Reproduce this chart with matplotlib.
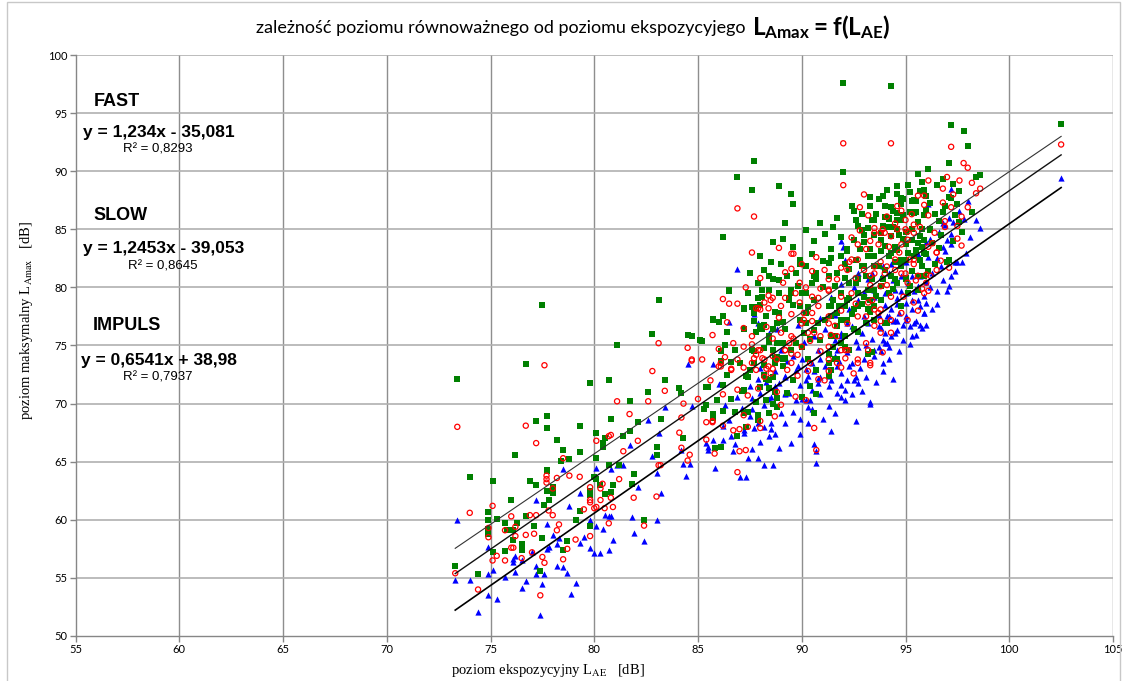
import numpy as np
import matplotlib
matplotlib.use("Agg")
import matplotlib.pyplot as plt
from matplotlib.patches import Rectangle

# ---------------------------------------------------------------------------
# Data: x = L_AE [dB], y = L_Amax [dB]
# ---------------------------------------------------------------------------

# green squares (highest series)
impuls_pts = np.array([
    (73.4, 72.1), (76.7, 73.4), (79.8, 71.8), (80.7, 72.0), (83.4, 72.0), (82.6, 71.0), (81.7, 70.2),
    (84.1, 71.3), (84.2, 70.9), (83.2, 68.7), (85.4, 71.4), (85.3, 69.5), (86.2, 71.6), (86.2, 69.4),
    (85.7, 68.8), (85.8, 66.2), (84.3, 67.0), (83.0, 66.3), (83.0, 65.6), (82.4, 60.0), (81.9, 63.9),
    (81.8, 63.1), (81.2, 64.7), (81.4, 67.2), (80.8, 68.7), (82.1, 68.4), (81.7, 67.6), (80.1, 67.5),
    (80.4, 66.6), (80.4, 66.3), (80.5, 67.0), (80.1, 65.3), (80.7, 64.7), (80.3, 63.0), (80.9, 63.0),
    (80.8, 62.4), (80.5, 62.2), (79.8, 62.5), (79.8, 62.1), (80.0, 63.7), (80.1, 63.5), (79.3, 60.8),
    (79.8, 59.5), (79.1, 60.0), (79.3, 65.8), (79.3, 68.1), (78.5, 66.0), (78.8, 65.2), (78.4, 65.1),
    (78.2, 66.9), (77.7, 68.9), (77.7, 67.9), (77.2, 68.5), (76.2, 65.6), (76.9, 63.3), (77.2, 63.0),
    (77.7, 64.3), (77.7, 64.2), (77.7, 62.5), (78.0, 62.3), (78.0, 62.8), (77.8, 61.7), (77.6, 61.3),
    (76.7, 60.3), (77.1, 59.5), (77.5, 58.4), (76.3, 59.7), (76.0, 61.7), (75.1, 63.3), (75.3, 60.1),
    (74.9, 60.7), (74.9, 60.0), (74.9, 59.2), (74.9, 58.8), (75.1, 57.2), (75.7, 59.7), (75.8, 59.1),
    (76.1, 59.1), (76.1, 58.3), (75.7, 57.3), (76.5, 57.9), (76.5, 57.4), (78.7, 58.2), (78.5, 57.4),
    (77.4, 55.6), (74.4, 55.3), (73.3, 56.0), (74.0, 63.7), (77.5, 78.5),
    (83.1, 78.9), (81.1, 75.0), (82.8, 76.0), (84.5, 75.9), (84.7, 75.8), (85.2, 75.4), (85.7, 77.3),
    (86.0, 77.0), (86.5, 79.7), (86.3, 75.0), (87.2, 78.1), (86.1, 74.5), (86.6, 73.6), (86.1, 73.7),
    (85.5, 71.4), (87.4, 72.3), (87.1, 71.1), (87.2, 71.1), (88.0, 71.4), (88.3, 72.1), (88.2, 72.5),
    (87.7, 78.3), (87.9, 79.1), (88.4, 79.8), (87.7, 77.1), (88.1, 76.4), (88.4, 75.3), (88.2, 74.8),
    (88.7, 77.9), (88.8, 76.9), (88.9, 73.9), (88.6, 72.3), (88.7, 71.0), (88.3, 70.3), (87.4, 69.3),
    (86.9, 67.2), (87.3, 68.0), (87.9, 69.0), (87.7, 74.5), (87.5, 72.9), (88.8, 69.7), (88.8, 74.0),
    (92.0, 97.6), (94.3, 97.3), (87.7, 90.9), (86.9, 89.5), (87.6, 88.4), (88.9, 88.7), (89.5, 88.0),
    (89.6, 87.2), (89.2, 85.5), (86.2, 84.3), (92.0, 89.9), (97.2, 94.0), (97.8, 93.5), (98.0, 92.2),
    (97.1, 90.7), (98.4, 89.5), (98.6, 89.7), (96.8, 89.3), (96.1, 90.2), (95.6, 89.8), (95.8, 89.1),
    (94.6, 88.7), (94.6, 88.0), (93.3, 87.8), (93.7, 87.6), (92.4, 87.0), (95.2, 88.2), (95.3, 87.4),
    (95.5, 87.4), (95.9, 88.4), (96.0, 87.9), (97.1, 87.8), (96.9, 87.0), (94.8, 87.7), (94.8, 87.2),
    (94.3, 86.9), (102.5, 94.1),
    (92.6, 85.8), (91.9, 84.3), (92.2, 83.3), (92.5, 84.1), (93.0, 84.5), (92.8, 83.3), (92.1, 82.0),
    (91.4, 82.5), (91.3, 82.1), (91.7, 81.2), (92.1, 80.8), (92.6, 80.4), (93.0, 81.8), (93.2, 85.1),
    (93.5, 85.8), (93.3, 83.3), (93.5, 81.8), (90.5, 82.9), (89.9, 82.4), (89.9, 82.0), (89.0, 82.0),
    (88.5, 82.2), (88.2, 81.5), (88.4, 81.0), (90.6, 81.0), (90.7, 80.7), (90.5, 80.4), (89.8, 80.1),
    (88.9, 79.5), (89.5, 79.5), (89.6, 78.5), (89.4, 79.1), (88.1, 79.2), (88.0, 78.5), (87.6, 78.3),
    (88.3, 77.5), (88.2, 76.8), (87.8, 76.2), (88.4, 75.5), (88.8, 75.2), (89.1, 75.2), (89.2, 73.9),
    (88.7, 73.9), (88.2, 73.3), (88.4, 72.0), (88.4, 71.3), (87.2, 71.2), (86.8, 69.3), (87.2, 69.2),
    (88.6, 70.0), (88.8, 70.5), (89.6, 72.0), (90.0, 74.9), (90.2, 76.9), (90.6, 76.3), (90.7, 70.8),
    (90.6, 69.2), (91.3, 74.3), (91.4, 77.5), (91.4, 78.4), (91.7, 77.8), (91.9, 77.2), (92.1, 78.4),
    (92.3, 79.1), (92.5, 78.1), (91.4, 75.8), (91.5, 74.9), (92.1, 74.9), (92.3, 74.6), (91.7, 73.8),
    (91.4, 72.9), (93.2, 74.3), (92.7, 76.2), (93.2, 78.1), (93.3, 78.9), (93.0, 79.2), (93.5, 79.8),
    (97.3, 88.9), (94.9, 87.6), (95.4, 87.5), (96.0, 86.7), (95.9, 86.2), (95.2, 86.5), (95.5, 86.5),
    (94.8, 85.8), (94.2, 86.0), (94.0, 87.0), (93.3, 87.0), (94.2, 85.2), (94.6, 85.0), (95.0, 84.8),
    (95.3, 85.0), (95.8, 85.0), (96.2, 85.0), (96.6, 85.7), (97.2, 87.7), (97.4, 86.2), (97.7, 84.8),
    (97.1, 82.4), (97.0, 82.2), (95.9, 84.1), (95.6, 83.8), (95.3, 84.1), (95.0, 83.7), (94.6, 83.2),
    (94.3, 84.4), (93.8, 84.1), (93.5, 84.5), (93.8, 83.1), (93.5, 82.7), (94.2, 82.7), (94.5, 82.2),
    (95.0, 82.4), (95.4, 82.7), (95.8, 81.8), (94.8, 81.8), (95.3, 81.4), (95.6, 81.0), (95.0, 80.8),
    (94.6, 80.4), (94.3, 81.0), (94.0, 81.5), (93.7, 81.8), (93.4, 80.7), (93.8, 80.1), (94.2, 79.5),
    (93.8, 78.9), (93.5, 78.4), (94.0, 76.9), (93.3, 77.9), (93.4, 74.4),
    (93.4, 85.8), (93.8, 84.7), (94.2, 85.9), (94.4, 85.2), (94.6, 85.8), (95.4, 86.4), (95.7, 84.4),
    (95.8, 83.5), (96.2, 84.9), (96.3, 83.8), (96.1, 81.4), (95.7, 82.4), (95.1, 83.0), (94.8, 82.4),
    (94.5, 83.5), (93.2, 82.7), (92.9, 81.8), (92.6, 82.4), (92.2, 83.1), (91.9, 82.7), (91.3, 81.0),
    (92.3, 80.4), (92.7, 80.7), (93.1, 81.0), (93.9, 80.7), (93.2, 79.8), (92.7, 79.5), (92.2, 78.9),
    (91.9, 79.5), (91.6, 80.1), (91.5, 78.9), (91.3, 78.4), (92.2, 77.2), (91.7, 76.7), (91.6, 75.8),
    (91.9, 75.2), (92.5, 76.4), (90.7, 81.2), (90.2, 79.5), (90.6, 78.9), (90.0, 79.5), (89.5, 79.8),
    (89.4, 78.9), (89.9, 78.4), (90.2, 77.8), (90.8, 76.9), (90.1, 76.1), (89.7, 75.2), (89.5, 74.6),
    (89.1, 73.8), (89.1, 73.2), (88.6, 74.6), (88.7, 73.5), (88.4, 75.8), (88.0, 76.7), (87.7, 77.8),
    (88.9, 77.8), (88.6, 80.7), (88.1, 79.8), (87.4, 79.5), (87.2, 78.2), (86.5, 79.8), (86.2, 77.5),
    (85.7, 77.2), (85.1, 75.5), (87.2, 76.4), (87.6, 74.6), (87.7, 73.5), (87.3, 72.4), (85.7, 69.1),
    (85.4, 69.9), (86.1, 66.3), (87.9, 68.6), (88.4, 69.2), (89.3, 70.9), (90.0, 70.6), (90.4, 71.5),
    (90.3, 73.8), (90.7, 72.9), (91.3, 73.5), (91.3, 72.4), (91.6, 73.8), (92.1, 75.8), (93.1, 76.9),
    (93.5, 77.2), (92.7, 78.4), (94.1, 76.9), (94.8, 78.4), (95.1, 79.5), (95.6, 79.8), (95.9, 81.0),
    (94.5, 80.7), (95.0, 80.7),
    (93.6, 86.3), (94.0, 86.1), (94.4, 86.6), (94.9, 86.2), (95.6, 85.6), (96.4, 86.3), (96.8, 86.5),
    (97.5, 87.2), (97.6, 88.3), (96.5, 88.8), (95.1, 88.8), (94.1, 88.4), (93.9, 87.9), (92.9, 86.3),
    (92.5, 86.6), (92.9, 84.9), (93.0, 83.9), (94.0, 83.6), (94.7, 84.5), (95.5, 83.2), (96.0, 82.9),
    (96.6, 83.4), (96.4, 82.0), (96.7, 84.5), (95.2, 80.1), (94.4, 79.9), (93.6, 79.3), (92.9, 78.6),
    (92.4, 77.7), (91.8, 78.4), (91.1, 77.2), (90.9, 75.5), (90.4, 75.6), (89.9, 77.2), (89.2, 76.4),
    (88.6, 76.4), (89.7, 81.2), (90.2, 81.8), (91.0, 82.3), (91.4, 83.3), (91.1, 84.6), (90.6, 84.0),
    (89.6, 83.5), (92.7, 85.3), (91.7, 86.0), (90.9, 85.5), (92.3, 81.6), (94.3, 83.0), (94.9, 84.2),
    (95.9, 83.0), (97.3, 84.0), (97.6, 85.6), (98.2, 86.5), (96.2, 87.3), (95.7, 88.3), (94.6, 86.4),
    (93.9, 85.3), (91.0, 80.0), (90.3, 78.3), (89.1, 77.0), (88.9, 80.6), (89.3, 81.0), (87.9, 80.4),
    (87.5, 81.2), (88.0, 82.7), (88.6, 83.9), (89.1, 84.2), (90.2, 84.9), (91.5, 85.2), (86.8, 74.6),
    (86.4, 76.2), (87.0, 73.5), (86.4, 72.5), (85.9, 70.3), (86.6, 70.4), (87.8, 70.1),
])

# red open circles (middle series)
fast_pts = np.array([
    (73.4, 68.0), (73.3, 55.4), (74.0, 60.6), (74.4, 54.0), (75.1, 61.2), (74.9, 59.3), (74.9, 58.5),
    (75.3, 56.9), (75.1, 56.5), (75.7, 59.1), (76.0, 60.3), (76.2, 59.4), (75.7, 56.5), (76.0, 57.6),
    (76.1, 57.6), (76.2, 58.6), (76.5, 56.7), (76.7, 58.7), (76.7, 68.1), (77.2, 66.6), (76.9, 60.4),
    (77.2, 60.4), (77.1, 58.8), (77.0, 57.2), (77.5, 56.8), (77.6, 56.3), (77.4, 53.5), (77.6, 73.3),
    (78.0, 60.4), (78.3, 59.6), (78.2, 59.1), (77.7, 63.8), (77.7, 63.5), (77.7, 63.2), (78.0, 62.7),
    (78.2, 63.6), (78.5, 65.3), (78.8, 63.8), (79.3, 63.7), (77.8, 60.8), (78.7, 57.5), (78.5, 56.6),
    (79.5, 60.9), (79.8, 61.5), (79.8, 61.7), (80.0, 61.0), (80.1, 61.1), (80.3, 61.7), (80.5, 61.0),
    (80.7, 59.7), (80.9, 61.1), (80.8, 61.9), (80.3, 62.7), (80.4, 63.1), (79.8, 58.6), (79.1, 58.3),
    (79.8, 62.8), (80.1, 66.8), (80.7, 67.2), (80.8, 67.3), (81.2, 63.5), (81.4, 65.9), (81.7, 69.1),
    (81.1, 70.2), (82.1, 66.8), (81.9, 61.9), (82.4, 59.5), (82.6, 70.2), (82.8, 72.8), (83.4, 71.1),
    (84.1, 67.5), (83.1, 64.7), (83.2, 64.7), (83.0, 62.0), (84.5, 65.1), (85.4, 66.9), (85.7, 68.4),
    (85.8, 65.7), (86.2, 68.1), (86.0, 73.2), (84.7, 73.7), (86.2, 70.8),
    (83.1, 75.2), (84.2, 68.8), (84.5, 74.8), (84.7, 73.8), (85.2, 73.8), (85.7, 75.9), (86.0, 74.7),
    (86.3, 74.0), (86.1, 73.2), (86.6, 73.0), (86.2, 79.0), (86.5, 78.6), (87.2, 73.1), (87.7, 73.9),
    (88.1, 73.9), (88.3, 73.0), (88.6, 73.0), (87.4, 70.7), (85.7, 68.5), (85.4, 68.4), (86.7, 67.7),
    (87.0, 67.8), (87.3, 66.0), (84.6, 65.6), (84.2, 66.2), (86.9, 64.1), (88.0, 67.9), (88.7, 68.9),
    (87.9, 78.2), (88.4, 79.3), (88.6, 79.1), (88.4, 78.2),
    (86.9, 86.8), (87.7, 86.1), (87.6, 83.0), (88.9, 83.4), (89.5, 82.9), (89.6, 82.9), (92.0, 88.8),
    (92.0, 92.4), (89.2, 81.3), (89.1, 80.4), (89.9, 80.4), (90.5, 81.4), (86.9, 78.6), (88.2, 78.7),
    (87.8, 78.2), (89.9, 78.7), (90.5, 79.2), (90.8, 79.1), (90.1, 77.8), (91.3, 79.7), (91.3, 80.7),
    (92.3, 82.2), (92.7, 83.7), (92.4, 84.3), (88.9, 77.4), (89.5, 77.7), (89.6, 75.6), (89.4, 75.2),
    (90.1, 77.2), (90.5, 77.1), (90.6, 76.1), (91.3, 76.9), (91.4, 75.9), (91.7, 75.8), (91.9, 74.6),
    (92.1, 73.9), (91.7, 73.5), (91.3, 73.8), (91.3, 72.8), (90.8, 72.1), (91.1, 72.0), (90.3, 72.8),
    (90.4, 73.5), (89.5, 74.3), (89.2, 74.6), (89.5, 73.5), (88.6, 74.1), (88.2, 73.8), (88.0, 74.6),
    (87.6, 75.1), (87.8, 74.2), (87.6, 73.5), (87.8, 72.9), (88.2, 72.3), (88.5, 72.6), (89.0, 69.9),
    (88.0, 68.5), (87.2, 69.0), (87.4, 68.0), (87.0, 65.9), (90.6, 67.9), (90.7, 66.0), (92.1, 74.6),
    (92.7, 73.5), (93.1, 75.2), (93.3, 73.3), (93.1, 77.5), (93.5, 78.1), (93.5, 85.1), (93.8, 84.7),
    (92.4, 82.4),
    (94.3, 92.4), (97.2, 92.1), (97.8, 90.7), (98.0, 90.3), (98.6, 88.5), (98.4, 88.1), (96.1, 89.2),
    (95.9, 87.9), (95.6, 87.9), (95.9, 87.1), (96.8, 88.5), (96.8, 87.3), (97.3, 88.0), (97.2, 86.9),
    (96.9, 85.7), (96.9, 85.2), (97.5, 84.2), (97.7, 83.6), (96.5, 83.0), (96.3, 83.8), (97.1, 81.7),
    (96.0, 81.1), (96.0, 80.4), (96.1, 79.7), (95.8, 79.9), (95.0, 85.0), (95.1, 84.8), (95.4, 84.7),
    (94.6, 85.0), (95.0, 85.8), (95.4, 85.4), (94.3, 84.4), (94.0, 84.7), (94.5, 85.5), (94.6, 87.0),
    (93.9, 85.0), (93.7, 83.7), (93.8, 82.2), (94.1, 81.8), (93.5, 81.2), (93.3, 81.0), (94.5, 81.5),
    (95.0, 81.2), (95.2, 82.4), (95.4, 82.0), (94.7, 83.0), (93.8, 80.1), (93.4, 78.9), (93.8, 77.1),
    (93.5, 76.7), (93.8, 78.1), (93.3, 73.5), (102.5, 92.3),
    (93.5, 84.7), (93.3, 84.0), (94.2, 83.5), (94.8, 83.7), (95.1, 84.1), (95.7, 85.2), (95.4, 82.4),
    (96.1, 83.5), (96.5, 83.0), (95.6, 81.0), (95.1, 80.4), (94.8, 81.2), (94.5, 82.4), (94.0, 81.2),
    (93.5, 81.8), (93.0, 81.5), (92.7, 82.4), (92.2, 81.5), (91.7, 80.7), (91.3, 79.8), (91.9, 79.2),
    (92.4, 79.5), (93.2, 78.7), (93.7, 77.8), (92.7, 77.5), (92.2, 76.9), (91.6, 76.7), (91.3, 77.5),
    (90.8, 78.4), (90.5, 77.8), (90.0, 76.9), (90.3, 76.1), (90.9, 75.8), (91.3, 74.9), (90.0, 74.9),
    (89.5, 75.8), (89.2, 74.6), (88.8, 73.8), (88.4, 73.2), (89.3, 72.9), (89.8, 72.4), (87.9, 74.6),
    (87.6, 75.8), (87.2, 74.9), (86.9, 73.8), (86.6, 72.9), (86.1, 73.5), (89.7, 79.5), (89.2, 79.1),
    (88.5, 78.9), (88.0, 78.1), (92.2, 74.6), (92.7, 73.8), (93.2, 74.6), (93.8, 76.1), (94.3, 77.2),
    (94.8, 77.8), (95.4, 78.7), (95.9, 79.5), (96.2, 81.0),
    (92.8, 84.9), (93.1, 83.3), (92.6, 80.8), (91.9, 81.7), (91.1, 81.5), (90.7, 82.6), (90.0, 82.0),
    (89.5, 81.6), (90.2, 80.0), (90.9, 79.9), (91.9, 78.0), (92.6, 78.6), (93.3, 80.2), (94.1, 80.2),
    (94.3, 79.2), (94.9, 79.2), (95.5, 80.6), (96.5, 81.5), (96.7, 82.3), (96.4, 84.7), (96.1, 86.2),
    (95.3, 86.3), (94.8, 86.6), (94.1, 86.1), (93.2, 86.2), (92.8, 86.9), (93.0, 88.0), (97.0, 89.5),
    (97.6, 89.2), (98.2, 89.0), (98.0, 86.9), (97.7, 86.1), (97.5, 85.3), (90.4, 75.4), (89.8, 74.2),
    (90.9, 74.5), (91.9, 73.1), (92.5, 72.6), (93.9, 74.4), (94.3, 76.1), (95.1, 77.2), (95.6, 78.0),
    (89.0, 76.1), (88.6, 75.6), (88.3, 76.6), (87.2, 76.5), (86.7, 75.2), (86.4, 77.0), (87.3, 80.0),
    (88.0, 80.8), (89.0, 78.4), (85.6, 72.0), (85.0, 70.4), (84.3, 70.0), (86.9, 71.2), (87.9, 71.3),
    (88.8, 71.0), (89.7, 70.6), (90.2, 70.3),
])

# blue triangles (lowest series)
slow_pts = np.array([
    (73.4, 60.0), (73.3, 54.8), (74.0, 54.8), (74.4, 52.1), (74.9, 57.7), (74.9, 55.3), (74.9, 53.5),
    (75.3, 53.2), (75.1, 55.7), (75.7, 55.1), (76.1, 56.4), (76.2, 56.9), (76.1, 56.6), (76.2, 55.5),
    (76.5, 56.5), (76.7, 54.7), (76.5, 54.1), (77.2, 56.0), (77.0, 57.2), (77.2, 61.7), (77.7, 59.6),
    (77.8, 57.7), (77.7, 57.5), (77.5, 54.5), (77.6, 55.3), (77.4, 51.8), (77.2, 55.3), (78.0, 58.7),
    (78.2, 57.9), (78.3, 58.4), (78.2, 56.0), (78.5, 55.9), (78.7, 55.4), (78.9, 53.6), (79.1, 54.6),
    (78.8, 61.2), (79.3, 58.0), (79.5, 58.5), (79.8, 57.6), (79.8, 60.0), (80.1, 59.5), (80.0, 57.1),
    (80.3, 57.1), (80.4, 59.2), (80.5, 60.4), (80.7, 60.3), (80.8, 60.3), (80.7, 57.4), (80.9, 58.3),
    (81.1, 64.7), (81.4, 64.7), (80.8, 64.4), (80.1, 64.5), (79.3, 62.3), (78.5, 64.4), (82.6, 68.6),
    (81.7, 66.4), (82.1, 62.8), (81.8, 60.2), (81.9, 58.9), (82.4, 58.2), (83.0, 60.0), (82.8, 65.5),
    (83.0, 64.0), (83.2, 62.3), (83.4, 69.7), (83.1, 67.5), (84.5, 73.4), (85.7, 73.4), (86.0, 71.7),
    (86.3, 69.9), (84.7, 69.8), (85.4, 66.6), (85.5, 66.3), (85.5, 66.0), (85.7, 66.9), (85.8, 64.5),
    (86.2, 66.9), (84.2, 66.0), (84.3, 64.8), (84.6, 64.8), (84.4, 63.8),
    (86.9, 81.6), (87.7, 77.7), (87.9, 76.9), (88.4, 76.1), (88.8, 76.4), (89.8, 76.8), (89.0, 74.6),
    (88.0, 73.1), (88.7, 72.8), (89.2, 72.3), (89.4, 70.9), (89.7, 70.3), (89.9, 71.6), (90.2, 72.0),
    (90.2, 70.3), (90.4, 70.3), (90.5, 71.2), (90.3, 69.7), (90.8, 71.8), (90.9, 72.3), (91.3, 71.5),
    (91.4, 72.0), (91.6, 74.1), (91.7, 73.2), (91.9, 71.6), (92.1, 71.2), (92.2, 72.0), (92.1, 70.3),
    (92.5, 72.0), (92.6, 72.3), (92.7, 71.8), (93.1, 72.3), (93.3, 70.0), (92.6, 68.5), (91.4, 67.6),
    (90.6, 66.5), (90.7, 65.9), (90.7, 64.9), (91.9, 75.8), (92.2, 76.9), (93.0, 77.5), (93.3, 78.2),
    (93.5, 79.2), (92.7, 78.9), (91.9, 84.0), (92.0, 83.5), (87.5, 68.9), (87.7, 67.9), (88.2, 68.0),
    (88.5, 68.3), (88.4, 67.2), (88.0, 66.7), (88.7, 67.4), (89.2, 68.3), (89.0, 69.2), (88.2, 64.7),
    (88.6, 64.7), (87.3, 63.7), (87.0, 63.7), (86.7, 65.9), (87.4, 65.3), (86.6, 67.2), (87.2, 67.7),
    (87.6, 70.5), (88.5, 70.6), (88.2, 69.9), (89.2, 70.8), (86.5, 77.0),
    (97.2, 88.5), (98.0, 87.4), (98.4, 85.8), (98.6, 85.1), (97.7, 82.2), (97.5, 82.2), (97.4, 81.4),
    (97.3, 85.6), (97.1, 86.0), (96.9, 85.4), (97.8, 85.9), (97.2, 84.6), (97.0, 84.1), (97.2, 83.7),
    (96.8, 83.5), (96.9, 83.1), (97.1, 80.1), (97.0, 79.7), (96.5, 79.7), (96.3, 81.2), (96.1, 82.6),
    (96.0, 80.5), (95.7, 81.0), (95.6, 80.1), (95.6, 78.9), (96.0, 78.7), (95.9, 77.8), (95.3, 78.1),
    (95.7, 76.8), (95.8, 76.5), (95.5, 77.1), (95.3, 75.8), (95.2, 76.7), (95.0, 77.2), (94.7, 77.8),
    (94.6, 77.1), (94.4, 77.1), (94.2, 77.5), (94.3, 78.1), (94.6, 79.1), (94.8, 79.7), (95.1, 80.4),
    (95.3, 81.0), (95.0, 78.7), (94.0, 76.1), (93.8, 76.5), (93.9, 75.5), (94.1, 75.2), (93.7, 74.9),
    (93.8, 74.5), (94.2, 74.9), (93.5, 74.1), (93.9, 73.5), (94.4, 72.1), (93.3, 70.1), (93.9, 81.8),
    (94.3, 82.0), (94.2, 81.2), (94.8, 81.0), (93.4, 81.2), (102.5, 89.4), (96.1, 87.2), (96.8, 85.5),
    (97.4, 82.2),
    (92.1, 82.4), (92.7, 81.2), (93.2, 80.7), (93.5, 79.8), (94.0, 79.5), (94.5, 79.8), (95.0, 79.5),
    (95.3, 78.9), (95.7, 78.4), (95.9, 77.8), (95.4, 76.9), (95.0, 77.5), (94.5, 77.2), (94.1, 77.5),
    (93.7, 76.7), (93.2, 76.9), (92.9, 76.1), (92.4, 76.7), (91.9, 76.1), (91.6, 75.5), (92.7, 74.9),
    (92.2, 74.4), (91.7, 74.6), (91.3, 74.4), (90.8, 74.6), (90.9, 73.8), (90.5, 73.5), (90.0, 73.8),
    (89.7, 72.9), (90.3, 72.4), (90.8, 72.1), (91.3, 72.4), (91.9, 72.6), (92.4, 73.5), (93.0, 73.8),
    (93.5, 74.6), (94.0, 75.2), (94.5, 76.1), (89.2, 72.4), (88.7, 71.5), (89.2, 70.9), (88.4, 70.4),
    (88.0, 70.9), (87.6, 69.5), (90.0, 70.4), (90.5, 69.5), (91.3, 69.8), (91.9, 70.6), (87.9, 68.3),
    (88.5, 67.8), (87.2, 67.5),
    (91.1, 76.4), (90.6, 75.8), (90.1, 75.3), (89.6, 74.1), (89.8, 73.2), (89.3, 73.7), (88.9, 71.8),
    (88.3, 71.9), (87.9, 72.1), (87.5, 71.5), (86.9, 70.6), (87.1, 69.6), (86.5, 68.6), (86.2, 68.1),
    (86.8, 66.5), (89.6, 69.3), (89.9, 68.7), (90.9, 70.8), (91.7, 70.9), (92.4, 70.8), (92.9, 71.1),
    (93.6, 71.9), (93.9, 72.8), (94.2, 73.8), (94.7, 74.5), (94.9, 75.5), (95.2, 75.1), (95.5, 75.9),
    (96.0, 76.8), (96.3, 78.1), (96.5, 78.6), (96.8, 80.6), (97.2, 81.0), (96.7, 81.8), (96.5, 82.5),
    (96.2, 84.2), (96.6, 84.8), (97.6, 86.6), (98.1, 84.3), (97.9, 83.0), (94.6, 76.3), (94.9, 76.8),
    (94.3, 75.8), (93.4, 75.6), (93.1, 75.0), (92.8, 73.1), (92.3, 73.2), (91.8, 73.7), (91.1, 73.2),
    (90.6, 72.8), (90.2, 73.0), (92.6, 75.4), (93.7, 77.6), (94.0, 78.5), (94.6, 78.6), (95.4, 79.7),
    (95.9, 79.3), (96.2, 80.0), (93.0, 79.6), (92.5, 80.0), (91.9, 80.3), (91.4, 79.2), (90.9, 77.4),
    (91.6, 77.6), (92.3, 78.1), (95.0, 82.2), (95.6, 82.9), (96.0, 83.9), (94.4, 80.6), (93.8, 80.9),
    (88.9, 66.2), (89.5, 66.6), (89.9, 67.4), (90.3, 68.3), (91.0, 68.7), (91.6, 69.2), (87.9, 65.3),
    (87.6, 66.1),
])

# fitted trend lines drawn on the chart (slope, intercept), x from 73.3 to 102.5
trend_x = [73.3, 102.5]
trend_top = (1.214, -31.44)
trend_fast = (1.234, -35.081)
trend_slow = (1.2453, -39.053)

# labels typed in the upper-left corner of the plot
label_names = ["FAST", "SLOW", "IMPULS"]
label_eqs = ["y = 1,234x - 35,081", "y = 1,2453x - 39,053", "y = 0,6541x + 38,98"]
label_r2 = ["R² = 0,8293", "R² = 0,8645", "R² = 0,7937"]

x_ticks = list(range(55, 106, 5))
y_ticks = list(range(50, 101, 5))

# ---------------------------------------------------------------------------
# Plot
# ---------------------------------------------------------------------------
W, H = 1124, 681
plt.rcParams["font.family"] = ["Lato", "DejaVu Sans"]
plt.rcParams["mathtext.fontset"] = "custom"
plt.rcParams["mathtext.rm"] = "Lato"
plt.rcParams["mathtext.bf"] = "Lato:bold"

fig = plt.figure(figsize=(W / 100, H / 100), dpi=100)


def fx(px):
    return px / W


def fy(py):
    return 1 - py / H


ax = fig.add_axes([fx(75.5), fy(636), fx(1113) - fx(75.5), fy(55) - fy(636)])
ax.set_xlim(55, 105)
ax.set_ylim(50, 100)
ax.set_xticks(x_ticks)
ax.set_yticks(y_ticks)

ax.grid(False)
for v in x_ticks[1:]:
    ax.axvline(v, color="#8e8e8e", lw=1.0, zorder=0)
for v in y_ticks[1:]:
    ax.axhline(v, color="#b0b0b0", lw=1.2, zorder=0)

for s in ("top", "right"):
    ax.spines[s].set_visible(False)
for s in ("left", "bottom"):
    ax.spines[s].set_color("#868686")
    ax.spines[s].set_linewidth(1.0)
ax.tick_params(direction="out", length=4, width=1, color="#868686",
               labelsize=8, pad=2, labelcolor="#000000")

ax.scatter(slow_pts[:, 0], slow_pts[:, 1], marker="^", s=20, color="#0000ff",
           linewidths=0, zorder=3)
ax.scatter(impuls_pts[:, 0], impuls_pts[:, 1], marker="s", s=15, color="#008000",
           linewidths=0, zorder=4)
ax.scatter(fast_pts[:, 0], fast_pts[:, 1], marker="o", s=14, facecolors="none",
           edgecolors="#ff0000", linewidths=0.9, zorder=5)

xs = np.array(trend_x)
for (k, b), lw, col in [(trend_top, 0.8, "#333333"),
                        (trend_fast, 1.0, "#111111"),
                        (trend_slow, 1.2, "#000000")]:
    ax.plot(xs, k * xs + b, color=col, lw=lw, zorder=6)

# annotation block
name_y = [101, 216, 326]
eq_y = [133, 249, 361]
r2_y = [150, 267, 378]
name_x = [94, 93, 93]
eq_x = [83, 83, 81]
r2_x = [123, 128, 123]
for i in range(3):
    fig.text(fx(name_x[i]), fy(name_y[i]), label_names[i], family="Liberation Sans",
             weight="bold", fontsize=13, ha="left", va="center")
    fig.text(fx(eq_x[i]), fy(eq_y[i]), label_eqs[i], family="Liberation Sans",
             weight="bold", fontsize=12.5, ha="left", va="center")
    fig.text(fx(r2_x[i]), fy(r2_y[i]), label_r2[i], family="Liberation Sans",
             fontsize=9.5, ha="left", va="center")

# title
fig.text(fx(745), fy(33), "zależność poziomu równoważnego od poziomu ekspozycyjego",
         fontsize=13, ha="right", va="baseline")
fig.text(fx(752), fy(35), r"$\mathbf{L_{Amax} = f(L_{AE})}$",
         fontsize=17.5, ha="left", va="baseline", math_fontfamily="custom")

# axis labels (serif, as in the original)
fig.text(fx(27), fy(320), r"poziom maksymalny L$_{\mathrm{Amax}}$   [dB]",
         family="Liberation Serif", math_fontfamily="stix", fontsize=10.5,
         rotation=90, ha="center", va="center")
fig.text(fx(548), fy(674), r"poziom ekspozycyjny L$_{\mathrm{AE}}$   [dB]",
         family="Liberation Serif", math_fontfamily="stix", fontsize=10.5,
         ha="center", va="baseline")

# chart-area border
fig.patches.append(Rectangle((fx(7), -0.05), fx(1120) - fx(7), fy(2) + 0.05,
                             transform=fig.transFigure, fill=False,
                             edgecolor="#c8c8c8", lw=1.0))

fig.savefig("out.png", dpi=100)
